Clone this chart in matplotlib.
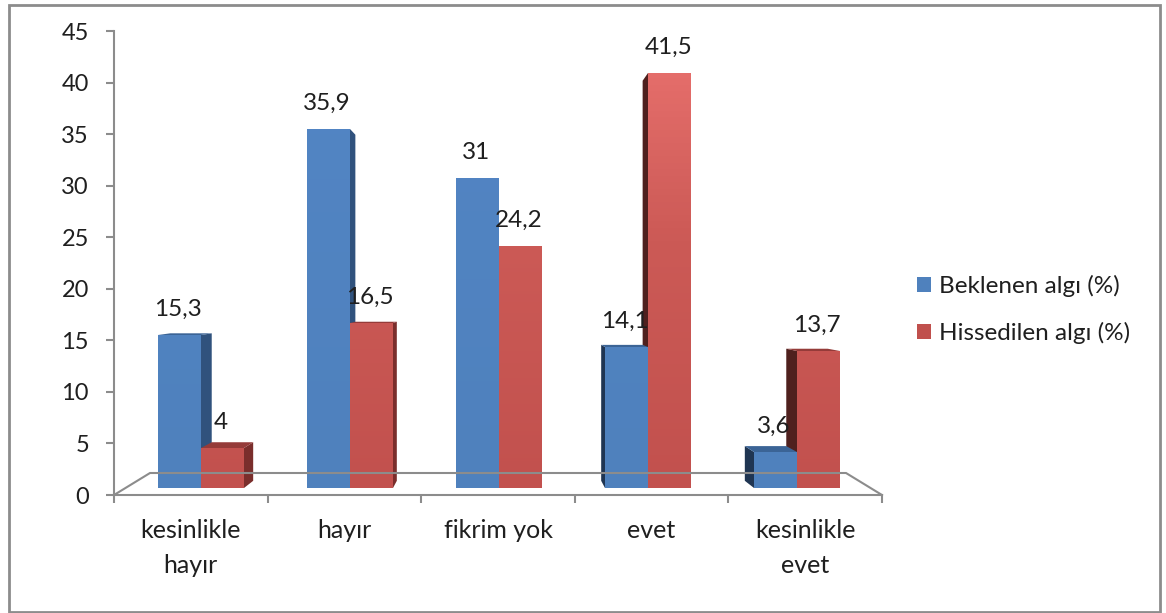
import numpy as np
import matplotlib
matplotlib.use('Agg')
import matplotlib.pyplot as plt
from matplotlib.colors import LinearSegmentedColormap
from matplotlib.lines import Line2D
from matplotlib.patches import Polygon, Rectangle

plt.rcParams['font.family'] = ['Lato', 'DejaVu Sans']

categories = ['kesinlikle\nhayır', 'hayır', 'fikrim yok', 'evet', 'kesinlikle\nevet']
beklenen = [15.3, 35.9, 31, 14.1, 3.6]
hissedilen = [4, 16.5, 24.2, 41.5, 13.7]
value_labels_b = ['15,3', '35,9', '31', '14,1', '3,6']
value_labels_h = ['4', '16,5', '24,2', '41,5', '13,7']
yticks = [0, 5, 10, 15, 20, 25, 30, 35, 40, 45]

W, H = 1166, 613
GREY = '#8c8c8c'
TEXT = '#1f1f1f'
BLUE = '#4f81bd'
RED = '#c0504d'

fig = plt.figure(figsize=(W / 100, H / 100), dpi=100, facecolor='white')


def px_line(xs, ys, lw=2.0):
    # line given in pixels from the top left corner
    fig.add_artist(Line2D([x / W for x in xs], [1 - y / H for y in ys],
                          color=GREY, lw=lw, solid_capstyle='projecting',
                          solid_joinstyle='miter', transform=fig.transFigure))


# outer frame
fig.add_artist(Rectangle((8.5 / W, 1 - 611.5 / H), 1151.5 / W, 606.5 / H, fill=False,
                         ec=GREY, lw=2.0, transform=fig.transFigure))

# axes with the ticks: 153.6 px per category, 10.31 px per y unit
ax_frame = fig.add_axes([0, 0, 1, 1], facecolor='none')
step = 153.6
ax_frame.set_xlim(-0.5 - 114 / step, -0.5 + (W - 114) / step)
ax_frame.set_ylim((495 - H) / 10.31, 495 / 10.31)
for s in ['top', 'right']:
    ax_frame.spines[s].set_visible(False)
for s in ['left', 'bottom']:
    ax_frame.spines[s].set_color(GREY)
    ax_frame.spines[s].set_linewidth(1.5)
ax_frame.spines['left'].set_position(('data', -0.5))
ax_frame.spines['left'].set_bounds(0, 45)
ax_frame.spines['bottom'].set_position(('data', 0))
ax_frame.spines['bottom'].set_bounds(-0.5, 4.5)
ax_frame.set_yticks(yticks)
ax_frame.set_xticks(np.arange(-0.5, 5))
ax_frame.set_xticklabels([])
ax_frame.set_xticks(np.arange(5), labels=categories, minor=True)
ax_frame.tick_params(axis='y', direction='out', length=6, width=1.5, color=GREY,
                     labelsize=17, labelcolor=TEXT, pad=12)
ax_frame.tick_params(axis='x', which='major', direction='out', length=6, width=1.5, color=GREY)
ax_frame.tick_params(axis='x', which='minor', length=0, labelsize=18, labelcolor=TEXT, pad=17)
for lab in ax_frame.get_xticklabels(minor=True):
    lab.set_linespacing(1.65)

# floor of the 3D box
px_line([114, 150, 846, 882], [495, 473, 473, 495], lw=1.5)

# axes with the bars: 149 px per category, 10 px per y unit, base at y=488
ax = fig.add_axes([0, 0, 1, 1], facecolor='none')
ax.axis('off')
width = 43 / 149
x = np.arange(5)

depth = 0.036
vanish_x = 2.0
vanish_y = 20


def back(xp, v):
    return xp + (vanish_x - xp) * depth, v + (vanish_y - v) * depth


def draw_box(left, v, base_color, side_r, side_l, top_col, z):
    right = left + width
    if right < vanish_x:
        bx, b0 = back(right, 0)
        _, bv = back(right, v)
        ax.add_patch(Polygon([(right, 0), (right, v), (bx, bv), (bx, b0)], fc=side_r, ec='none', zorder=z))
    if left > vanish_x:
        bx, b0 = back(left, 0)
        _, bv = back(left, v)
        ax.add_patch(Polygon([(left, 0), (left, v), (bx, bv), (bx, b0)], fc=side_l, ec='none', zorder=z))
    if v < vanish_y:
        lx, lv = back(left, v)
        rx, _ = back(right, v)
        ax.add_patch(Polygon([(left, v), (right, v), (rx, lv), (lx, lv)], fc=top_col, ec='none', zorder=z + 0.1))


# taller box of each pair goes first so the shorter one's top stays visible
for i in x:
    for left, v, c, sr, sl, tc in [(x[i] - width, beklenen[i], BLUE, '#30527d', '#1f3552', '#3b6496'),
                                   (x[i], hissedilen[i], RED, '#7a2e2c', '#4f201e', '#953b39')]:
        z = 2 if v == max(beklenen[i], hissedilen[i]) else 3
        draw_box(left, v, c, sr, sl, tc, z)

bars_b = ax.bar(x - width / 2, beklenen, width, color=BLUE, edgecolor='none', zorder=5,
                label='Beklenen algı (%)')
bars_h = ax.bar(x + width / 2, hissedilen, width, color=RED, edgecolor='none', zorder=5,
                label='Hissedilen algı (%)')

# front faces get lighter with height
cmap_b = LinearSegmentedColormap.from_list('b', ['#4f81bd', '#5285c4'])
cmap_h = LinearSegmentedColormap.from_list('h', [(0, '#c2514e'), (0.6, '#cc5a56'), (1, '#e46d6a')])
for bars, vals, cmap in [(bars_b, beklenen, cmap_b), (bars_h, hissedilen, cmap_h)]:
    for bar, v in zip(bars, vals):
        shade = np.linspace(v, 0, 64)[:, None]
        im = ax.imshow(shade, extent=[bar.get_x(), bar.get_x() + bar.get_width(), 0, v],
                       aspect='auto', cmap=cmap, vmin=0, vmax=41.5, zorder=6)
        im.set_clip_path(bar)

for bars, labels in [(bars_b, value_labels_b), (bars_h, value_labels_h)]:
    for bar, t in zip(bars, labels):
        ax.annotate(t, (bar.get_x() + bar.get_width() / 2, bar.get_height()),
                    xytext=(-1, 18.6), textcoords='offset points', ha='center', va='center',
                    fontsize=17.5, color=TEXT, zorder=10)

ax.set_xlim(-201 / 149, (W - 201) / 149)
ax.set_ylim((488 - H) / 10, 488 / 10)

ax.legend(handles=[bars_b, bars_h], loc='center left',
          bbox_to_anchor=(895 / W, 1 - 309.5 / H), bbox_transform=fig.transFigure,
          frameon=False, fontsize=17.5, handlelength=0.6, handleheight=0.6,
          handletextpad=0.33, labelspacing=1.02, labelcolor=TEXT)

fig.savefig('out.png', dpi=100)
